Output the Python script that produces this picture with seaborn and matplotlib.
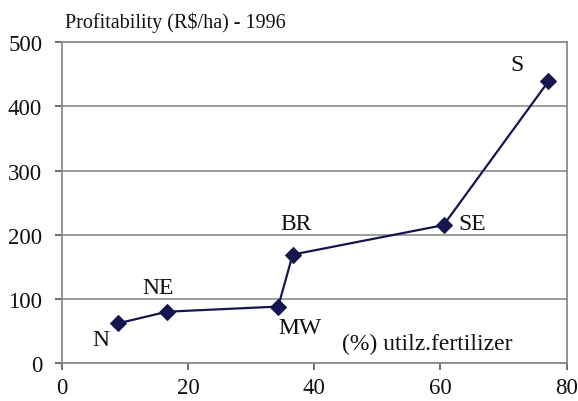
import matplotlib
matplotlib.use("Agg")
import matplotlib.pyplot as plt
import seaborn as sns
import pandas as pd

regions = ["N", "NE", "MW", "BR", "SE", "S"]
fert_pct = [9.0, 16.7, 34.3, 36.6, 60.5, 77.1]
profit = [62, 80, 88, 169, 215, 439]
x_ticks = [0, 20, 40, 60, 80]
y_ticks = [0, 100, 200, 300, 400, 500]

df = pd.DataFrame({"region": regions, "fert": fert_pct, "profit": profit})

sns.set_style("white")
plt.rcParams['font.family'] = ['Liberation Serif', 'DejaVu Serif']

fig = plt.figure(figsize=(5.78, 4.02), dpi=100)
ax = fig.add_axes([0.1067, 0.0945, 0.8737, 0.7978])

navy = "#15164f"
sns.lineplot(data=df, x="fert", y="profit", ax=ax, sort=False, color=navy,
             linewidth=1.6, marker="D", markersize=8, markeredgecolor=navy,
             markerfacecolor=navy)

ax.set_xlim(0, 80)
ax.set_ylim(0, 500)
ax.set_xticks(x_ticks)
ax.set_yticks(y_ticks)
ax.set_xlabel("")
ax.set_ylabel("")
ax.yaxis.grid(True, color="#8c8c8c", linewidth=1.2)
ax.set_axisbelow(True)
for s in ax.spines.values():
    s.set_color("#8c8c8c")
    s.set_linewidth(1.3)
ax.tick_params(axis="both", labelsize=16.5, length=5, width=1.2,
               direction="out", left=True, bottom=True, labelcolor="#111111",
               color="#555555")
ax.tick_params(axis="y", pad=9)
ax.tick_params(axis="x", pad=5)

offsets = {"N": (-2.8, -26), "NE": (-1.4, 38), "MW": (3.5, -33), "BR": (0.5, 49),
           "SE": (4.6, 2), "S": (-4.9, 26)}
for r, xv, yv in zip(regions, fert_pct, profit):
    dx, dy = offsets[r]
    ax.text(xv + dx, yv + dy, r, fontsize=17, ha="center", va="center", color="#111111")

ax.text(57.9, 31, "(%) utilz.fertilizer", fontsize=17, ha="center", va="center",
        color="#111111")
fig.text(0.1125, 0.9296, "Profitability (R$/ha) - 1996", fontsize=14.5, ha="left",
         va="baseline", color="#111111")

fig.savefig("out.png", dpi=100)
